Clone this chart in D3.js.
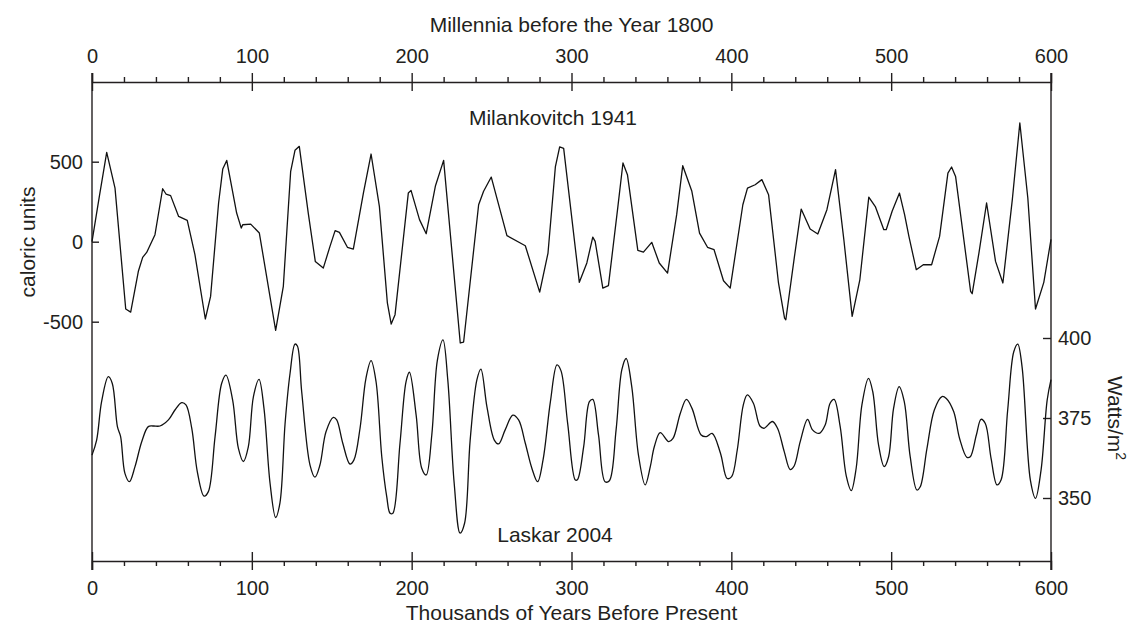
<!DOCTYPE html>
<html><head><meta charset="utf-8">
<script src="https://cdn.jsdelivr.net/npm/d3@7"></script>
<style>
body{margin:0;background:#fff}
text{font-family:"Liberation Sans",Arial,Helvetica,sans-serif;fill:#231f20}
</style>
</head><body>
<svg id="c" width="1131" height="625"></svg>
<script>
const xTicks=[0,100,200,300,400,500,600];
const xMinor=[20,40,60,80,120,140,160,180,220,240,260,280,320,340,360,380,420,440,460,480,520,540,560,580];
const calTicks=[-500,0,500];
const wattTicks=[350,375,400];

// Milankovitch 1941 (thousand years BP, caloric units)
const milT=[0,4.6,9.2,14.4,21.1,24.2,29.0,31.7,34.2,39.4,44.2,46.3,49.2,54.2,59.6,64.4,70.9,74.2,79.2,81.8,84.3,90.5,93.4,94.3,99.3,104.7,114.9,119.7,124.3,127.0,129.7,135.3,139.7,144.7,148.9,152.1,154.8,159.8,163.5,169.8,174.6,179.8,184.8,187.2,189.6,197.9,199.6,204.9,209.1,214.9,220.0,230.4,232.5,241.9,245.0,249.8,259.6,271.1,280.1,285.3,289.9,292.6,295.1,304.9,309.6,313.3,314.8,319.6,323.1,328.8,332.2,335.0,341.5,345.0,350.2,354.9,360.1,365.8,369.6,375.3,380.1,385.1,389.2,395.1,399.3,407.2,410.1,414.9,419.1,423.3,429.5,433.3,434.1,439.5,443.7,449.3,454.1,459.8,465.2,470.4,475.6,480.4,486.0,490.2,495.4,496.9,500.6,505.2,508.4,511.1,515.7,520.1,525.3,530.3,535.5,537.8,540.3,549.7,550.7,554.9,559.7,565.3,569.9,575.8,580.5,585.5,590.3,595.5,600];
const milV=[0,283,558,335,-421,-440,-185,-98,-67,44,331,298,288,158,133,-81,-483,-342,242,454,508,179,85,106,110,54,-554,-279,440,571,596,179,-123,-165,-29,69,58,-35,-46,304,548,221,-383,-515,-456,304,321,138,50,350,508,-633,-627,231,315,404,38,-25,-315,-71,467,592,583,-254,-133,29,2,-290,-275,200,492,419,-54,-65,-4,-133,-196,169,475,315,54,-35,-50,-244,-290,231,335,356,388,294,-258,-477,-488,-92,204,79,48,200,450,12,-467,-238,279,217,75,75,190,304,169,33,-175,-144,-144,33,429,467,408,-310,-325,-71,242,-123,-258,263,742,273,-421,-254,15];

// Laskar 2004 (thousand years BP, W/m^2)
const lasT=[0,2.9,6.0,10.2,12.7,15.9,17.9,20.6,23.4,26.9,31.1,35.2,38.4,42.5,47.8,51.9,56.1,58.8,62.4,65.9,70.1,72.8,77.0,81.1,83.8,88.0,91.6,94.7,97.8,101.0,104.5,107.6,111.4,114.9,117.6,120.8,123.9,127.0,128.5,131.2,136.4,139.5,142.6,146.4,151.0,153.1,156.9,161.4,163.9,167.7,171.4,174.6,177.7,181.3,184.4,186.5,188.2,192.7,196.5,198.6,202.8,206.3,209.1,212.6,216.1,219.6,222.6,226.6,230.3,233.1,236.6,240.8,243.3,247.1,251.7,254.4,258.5,263.3,266.9,271.1,275.2,278.8,282.2,286.8,290.9,293.4,297.6,302.4,303.8,307.6,311.2,313.3,316.9,321.0,323.7,327.9,331.5,334.2,337.7,341.9,346.1,349.3,351.8,355.5,360.8,363.5,368.1,371.9,375.4,381.1,384.4,388.0,393.2,397.4,400.2,403.7,407.5,410.0,413.8,417.9,420.5,425.7,428.9,433.1,436.8,439.3,443.1,447.7,450.8,455.0,458.7,461.8,464.3,468.1,471.9,475.0,478.1,481.7,485.8,488.5,492.1,495.6,498.4,501.5,505.0,508.2,511.9,516.1,518.2,522.4,527.0,531.8,534.5,539.1,542.8,547.4,549.5,553.3,556.2,558.9,562.5,566.2,568.8,572.9,576.7,579.2,581.9,587.1,590.3,593.8,597.6,600];
const lasV=[363.4,368.1,380.1,387.9,385.8,372.3,369.2,357.7,355.1,359.8,367.6,372.3,372.5,372.5,374.4,377.5,379.8,379.1,371.8,358.2,350.6,352.0,369.2,385.8,388.4,380.6,365.5,361.4,366.0,381.7,387.1,378.0,354.6,343.9,348.5,373.3,388.9,398.1,397.5,383.2,360.3,356.5,360.3,370.7,375.2,374.4,367.1,360.6,361.9,371.8,387.4,392.9,386.4,362.9,350.4,345.2,345.2,367.1,386.4,389.3,375.9,359.3,357.2,369.7,393.1,399.4,386.9,354.6,339.0,342.1,368.1,386.9,390.3,378.5,368.1,366.9,371.3,375.9,374.4,367.1,359.3,355.1,361.9,380.1,391.6,389.8,373.3,355.6,355.8,366.0,380.1,380.8,369.7,355.1,355.4,371.3,390.1,393.6,384.8,363.4,354.1,359.8,366.0,370.4,367.6,368.6,376.5,380.8,378.0,369.7,369.2,370.2,364.0,356.1,356.7,365.0,379.1,382.2,379.6,372.5,371.8,373.9,371.8,364.5,358.9,360.0,367.6,374.6,371.3,370.2,372.8,379.6,380.8,372.3,356.9,352.3,359.3,379.1,387.4,383.2,366.6,359.8,362.9,378.0,384.8,380.1,362.9,352.5,353.5,365.5,377.5,381.7,381.1,377.0,368.6,362.7,362.9,369.7,374.6,373.3,362.4,354.1,355.7,377.5,395.7,398.1,391.0,355.6,349.9,358.8,380.6,387];

const svg=d3.select("#c");
const L=92,R=1051,T=82,B=561;
const x=d3.scaleLinear([0,600],[L,R]);
const yC=d3.scaleLinear([-500,500],[321.7,161.7]);
const yW=d3.scaleLinear([350,400],[498,338]);
const axisColor="#231f20";
const fmt=d=>String(d);

function styleAxis(g){g.selectAll("path,line").attr("stroke",axisColor).attr("stroke-width",1.4);
  g.selectAll("text").attr("font-size",20).attr("font-family","Liberation Sans, Arial, sans-serif").attr("fill","#231f20");}

// top axis
const gTop=svg.append("g").attr("transform",`translate(0,${T})`);
gTop.call(d3.axisTop(x).tickValues(xTicks).tickSizeOuter(0).tickSize(9).tickPadding(10).tickFormat(fmt));
gTop.selectAll(".tick line").attr("y1",9).attr("y2",-9);
styleAxis(gTop);
const gTopM=svg.append("g").attr("transform",`translate(0,${T})`);
gTopM.call(d3.axisTop(x).tickValues(xMinor).tickSize(5).tickFormat(""));
gTopM.select(".domain").remove();
styleAxis(gTopM);

// bottom axis
const gBot=svg.append("g").attr("transform",`translate(0,${B})`);
gBot.call(d3.axisBottom(x).tickValues(xTicks).tickSizeOuter(0).tickSize(9).tickPadding(11).tickFormat(fmt));
gBot.selectAll(".tick line").attr("y1",-9).attr("y2",9);
styleAxis(gBot);
const gBotM=svg.append("g").attr("transform",`translate(0,${B})`);
gBotM.call(d3.axisBottom(x).tickValues(xMinor).tickSize(5).tickFormat(""));
gBotM.select(".domain").remove();
styleAxis(gBotM);

// left/right frame lines and value axes
svg.append("line").attr("x1",L).attr("x2",L).attr("y1",T-9).attr("y2",B+9).attr("stroke",axisColor).attr("stroke-width",1.4);
svg.append("line").attr("x1",R).attr("x2",R).attr("y1",T-9).attr("y2",B+9).attr("stroke",axisColor).attr("stroke-width",1.4);
const gL=svg.append("g").attr("transform",`translate(${L},0)`);
gL.call(d3.axisLeft(yC).tickValues(calTicks).tickSize(-7).tickPadding(9).tickFormat(fmt));
gL.select(".domain").remove();
styleAxis(gL);
const gR=svg.append("g").attr("transform",`translate(${R},0)`);
gR.call(d3.axisRight(yW).tickValues(wattTicks).tickSize(-8).tickPadding(7).tickFormat(fmt));
gR.select(".domain").remove();
styleAxis(gR);

// axis titles
svg.append("text").attr("x",(L+R)/2).attr("y",32).attr("text-anchor","middle").attr("font-size",21).text("Millennia before the Year 1800");
svg.append("text").attr("x",(L+R)/2).attr("y",620).attr("text-anchor","middle").attr("font-size",21).text("Thousands of Years Before Present");
svg.append("text").attr("transform","translate(35,242) rotate(-90)").attr("text-anchor","middle").attr("font-size",21).text("caloric units");
const wt=svg.append("text").attr("transform","translate(1108,418) rotate(90)").attr("text-anchor","middle").attr("font-size",21);
wt.append("tspan").text("Watts/m");
wt.append("tspan").attr("dy",-8).attr("font-size",14).text("2");

// series labels
svg.append("text").attr("x",553).attr("y",125).attr("text-anchor","middle").attr("font-size",21).text("Milankovitch 1941");
svg.append("text").attr("x",555).attr("y",542).attr("text-anchor","middle").attr("font-size",21).text("Laskar 2004");

// curves
const mil=milT.map((t,i)=>[t,milV[i]]);
const las=lasT.map((t,i)=>[t,lasV[i]]);
svg.append("path").datum(mil).attr("fill","none").attr("stroke","#111").attr("stroke-width",1.3).attr("stroke-linejoin","round")
  .attr("d",d3.line().x(d=>x(d[0])).y(d=>yC(d[1])));
svg.append("path").datum(las).attr("fill","none").attr("stroke","#111").attr("stroke-width",1.3).attr("stroke-linejoin","round")
  .attr("d",d3.line().x(d=>x(d[0])).y(d=>yW(d[1])).curve(d3.curveCatmullRom.alpha(0.5)));
</script>
</body></html>
